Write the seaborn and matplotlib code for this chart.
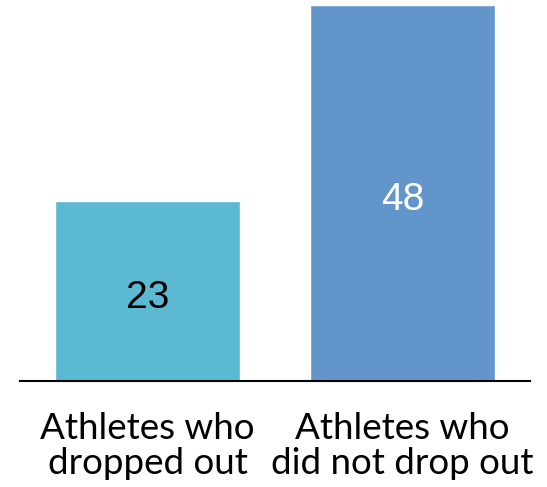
import matplotlib
matplotlib.use("Agg")
import matplotlib.pyplot as plt
import seaborn as sns
import pandas as pd

categories = ["Athletes who\ndropped out", "Athletes who\ndid not drop out"]
values = [23, 48]
bar_colors = ["#5CB9D2", "#6296CB"]
value_text_colors = ["black", "white"]

sns.set_style("white")

fig = plt.figure(figsize=(5.47, 4.87), dpi=100)
ax = fig.add_axes([20 / 547, 106 / 487, 510 / 547, 376 / 487])

df = pd.DataFrame({"group": categories, "count": values})
sns.barplot(data=df, x="group", y="count", hue="group", palette=bar_colors,
            width=0.725, saturation=1, legend=False, ax=ax)

ax.set_xlim(-0.5, 1.5)
ax.set_ylim(0, 48)
ax.set_xlabel("")
ax.set_ylabel("")
ax.set_yticks([])
for side in ["top", "left", "right"]:
    ax.spines[side].set_visible(False)
ax.spines["bottom"].set_color("black")
ax.spines["bottom"].set_linewidth(1.5)

ax.tick_params(axis="x", length=0, pad=22)
for lbl in ax.get_xticklabels():
    lbl.set_fontfamily("Lato")
    lbl.set_fontsize(26.5)
    lbl.set_color("black")
    lbl.set_linespacing(1.1)

for i, (v, c) in enumerate(zip(values, value_text_colors)):
    ax.annotate(str(v), xy=(i, v / 2), xytext=(0, -2), textcoords="offset points",
                ha="center", va="center_baseline", color=c,
                fontsize=28, fontfamily="Liberation Sans")

fig.savefig("out.png", dpi=100)
